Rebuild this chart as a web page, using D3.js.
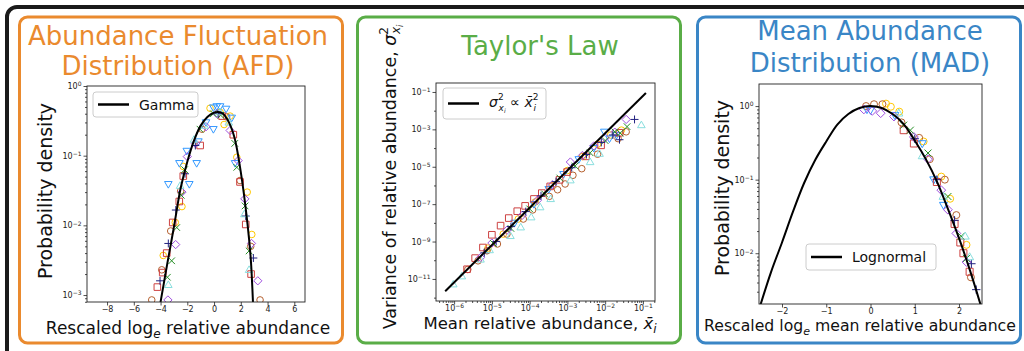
<!DOCTYPE html>
<html>
<head>
<meta charset="utf-8">
<script src="https://cdn.jsdelivr.net/npm/d3@7"></script>
<style>
  body { margin: 0; background: #fff; }
  svg { display: block; }
</style>
</head>
<body>
<div id="container"></div>
<script>
var width = 1024,
    height = 351;

// ---- tick values ----
var afdXTicks = [-8, -6, -4, -2, 0, 2, 4, 6];
var afdYTicks = [1e-3, 1e-2, 1e-1, 1];
var taylorXTicks = [1e-6, 1e-5, 1e-4, 1e-3, 1e-2, 1e-1];
var taylorYTicks = [1e-11, 1e-9, 1e-7, 1e-5, 1e-3, 1e-1];
var taylorYMinor = [1e-12, 1e-10, 1e-8, 1e-6, 1e-4, 1e-2];
var madXTicks = [-2, -1, 0, 1, 2];
var madYTicks = [1e-2, 1e-1, 1];

// ---- AFD: [rescaled log abundance, density] ----
var afdGamma = [[-4.05, 0.0007], [-3.5, 0.0028], [-3.0, 0.0095], [-2.5, 0.034], [-2.0, 0.082],
  [-1.5, 0.165], [-1.0, 0.27], [-0.5, 0.36], [0, 0.415], [0.3, 0.425], [0.6, 0.41], [1.0, 0.33],
  [1.5, 0.19], [2.0, 0.058], [2.5, 0.0105], [2.75, 0.0032], [2.95, 0.0005]];
var afdYellow = [[-0.3, 0.48], [0.75, 0.28], [1.2, 0.37], [1.7, 0.095], [-2.3, 0.07], [-2.4, 0.0186],
  [-2.9, 0.011], [-3.8, 0.0037], [2.48, 0.03], [2.82, 0.0074], [0.45, 0.42]];
var afdBrown = [[-4.66, 0.00085], [-3.91, 0.0023], [-3.24, 0.0083], [-2.5, 0.031], [-0.9, 0.24],
  [0.94, 0.36], [1.94, 0.044], [2.74, 0.005], [3.44, 0.00085]];
var afdBlue = [[-3.42, 0.039], [-2.59, 0.078], [-2.04, 0.117], [-1.85, 0.039], [-1.3, 0.078],
  [-1.17, 0.16], [-0.6, 0.3], [-0.05, 0.24], [-0.05, 0.49], [0.2, 0.51], [0.45, 0.51], [0.9, 0.47],
  [1.32, 0.35], [1.57, 0.078]];
var afdRed = [[-4.24, 0.0013], [-3.84, 0.0021], [-3.54, 0.004], [-3.09, 0.011], [-2.6, 0.022],
  [-2.3, 0.051], [-1.04, 0.14], [0.6, 0.37], [1.44, 0.2], [1.94, 0.042], [2.37, 0.0103], [2.77, 0.002]];
var afdPurple = [[-3.45, 0.00085], [-2.87, 0.0053], [-2.4, 0.03], [-2.0, 0.097], [-1.4, 0.15],
  [-0.6, 0.26], [0.2, 0.4], [1.2, 0.23], [1.8, 0.085], [2.3, 0.024], [2.8, 0.0055], [3.27, 0.0016]];
var afdGreen = [[-3.49, 0.0018], [-3.17, 0.0031], [-2.79, 0.0093], [-2.45, 0.027], [-2.2, 0.063],
  [-1.05, 0.24], [-0.05, 0.4], [0.5, 0.38], [1.55, 0.15], [1.7, 0.068], [2.32, 0.019], [2.62, 0.0043]];
var afdNavy = [[-4.04, 0.0016], [-3.42, 0.0055], [-2.86, 0.0166], [-2.17, 0.055], [-1.4, 0.14],
  [0.3, 0.4], [2.37, 0.0136], [2.94, 0.0034]];
var afdCyan = [[-3.42, 0.0014], [-2.54, 0.037], [-1.5, 0.17], [-0.7, 0.27], [0.45, 0.42],
  [1.1, 0.3], [2.27, 0.0145], [2.62, 0.0023]];

// ---- Taylor's law: [mean, variance] ----
var taylorLine = [[5.8e-7, 2.2e-12], [1.2e-1, 8.9e-2]];
var taylorYellow = [[7.9e-6, 4.5e-10], [2.0e-5, 2.5e-9], [5.0e-5, 1.6e-8], [1.4e-4, 1.3e-7], [4.0e-4, 1.0e-6],
  [1.0e-3, 6.3e-6], [2.5e-3, 3.5e-5], [6.3e-3, 1.6e-4], [1.4e-2, 5.0e-4], [2.7e-2, 9.1e-4]];
var taylorBrown = [[2.3e-6, 3.2e-11], [4.3e-6, 9.3e-11], [7.4e-6, 3.2e-10], [1.4e-5, 7.4e-10], [2.5e-5, 2.5e-9],
  [6.8e-5, 1.6e-8], [1.2e-4, 4.9e-8], [3.3e-4, 2.6e-7], [5.5e-4, 5.9e-7], [8.7e-4, 1.2e-6], [1.4e-3, 3.5e-6],
  [2.4e-3, 7.9e-6], [6.3e-3, 4.7e-5], [2.2e-2, 3.2e-4], [3.6e-2, 7.4e-4]];
var taylorBlue = [[4.0e-5, 1.0e-8], [1.3e-4, 1.0e-7], [3.2e-4, 6.3e-7], [7.9e-4, 4.0e-6], [2.0e-3, 2.5e-5],
  [5.0e-3, 1.0e-4], [9.5e-3, 7.4e-4], [1.3e-2, 3.2e-4], [2.0e-2, 5.0e-4]];
var taylorRed = [[2.2e-6, 3.3e-11], [3.6e-6, 1.3e-10], [5.8e-6, 4.8e-10], [1.0e-5, 2.3e-9], [1.7e-5, 7.1e-9],
  [2.8e-5, 1.8e-8], [4.7e-5, 4.2e-8], [7.6e-5, 8.1e-8], [1.3e-4, 1.9e-7], [2.1e-4, 3.9e-7], [3.5e-4, 8.9e-7],
  [6.2e-4, 2.0e-6], [9.8e-4, 5.2e-6], [3.1e-3, 3.6e-5], [7.8e-3, 1.4e-4], [2.4e-2, 6.6e-4]];
var taylorPurple = [[5.0e-6, 1.4e-10], [1.0e-5, 8.3e-10], [2.5e-5, 4.0e-9], [6.3e-5, 2.5e-8], [1.6e-4, 1.6e-7],
  [4.0e-4, 1.1e-6], [1.2e-3, 1.8e-5], [2.5e-3, 4.0e-5], [5.0e-3, 1.3e-4], [1.0e-2, 3.5e-4], [1.8e-2, 7.1e-4],
  [3.6e-2, 3.4e-3]];
var taylorGreen = [[1.1e-5, 7.9e-10], [3.2e-5, 5.0e-9], [1.0e-4, 5.6e-8], [2.5e-4, 3.5e-7], [6.3e-4, 2.5e-6],
  [1.6e-3, 1.1e-5], [4.0e-3, 5.6e-5], [1.0e-2, 2.5e-4], [1.8e-2, 7.4e-4], [2.5e-2, 6.3e-4], [3.8e-2, 1.4e-3]];
var taylorNavy = [[6.3e-6, 2.5e-10], [1.3e-5, 1.0e-9], [3.2e-5, 6.3e-9], [7.9e-5, 4.0e-8], [2.0e-4, 2.8e-7],
  [5.0e-4, 1.6e-6], [1.3e-3, 8.9e-6], [3.2e-3, 4.5e-5], [7.9e-3, 2.0e-4], [1.6e-2, 5.0e-4], [2.4e-2, 2.8e-4],
  [6.0e-2, 3.4e-3]];
var taylorCyan = [[9.5e-7, 5.2e-12], [1.6e-6, 1.4e-11], [5.0e-6, 1.1e-10], [8.7e-6, 3.5e-10], [3.1e-5, 2.0e-9],
  [5.8e-5, 5.8e-9], [1.1e-4, 2.0e-8], [1.9e-4, 6.9e-8], [3.6e-4, 1.9e-7], [1.2e-3, 1.9e-6], [4.0e-3, 1.8e-5],
  [7.1e-3, 5.0e-5], [9.1e-2, 1.7e-3]];

// ---- MAD: [rescaled log mean abundance, density] ----
var madLognormal = [[-2.55, 0.0015], [-2.25, 0.0055], [-2.0, 0.014], [-1.75, 0.037], [-1.5, 0.09],
  [-1.25, 0.185], [-1.0, 0.33], [-0.75, 0.56], [-0.5, 0.78], [-0.25, 0.94], [0, 1.0], [0.25, 0.94],
  [0.5, 0.78], [0.75, 0.57], [1.0, 0.34], [1.25, 0.19], [1.5, 0.095], [1.75, 0.04], [2.0, 0.016],
  [2.25, 0.0058], [2.55, 0.0015]];
var madYellow = [[0.35, 1.08], [0.46, 0.98], [0.65, 0.84], [1.2, 0.33], [1.6, 0.11], [1.8, 0.055], [2.17, 0.013]];
var madBrown = [[-0.1, 1.0], [0.08, 1.06], [0.27, 1.06], [0.7, 0.6], [1.1, 0.37], [1.34, 0.19], [1.68, 0.1],
  [1.94, 0.033], [2.27, 0.0047]];
var madBlue = [[-0.08, 0.9], [0, 0.88], [0.55, 0.75], [1.17, 0.31], [1.43, 0.1], [1.65, 0.045]];
var madRed = [[0.75, 0.47], [0.98, 0.31], [1.5, 0.093], [1.9, 0.025], [2.03, 0.014], [2.1, 0.01], [2.24, 0.0056]];
var madPurple = [[-0.15, 0.9], [0.04, 0.86], [0.23, 0.8], [0.53, 0.72], [0.98, 0.38], [1.3, 0.19], [1.6, 0.072],
  [1.75, 0.039], [1.94, 0.0186], [2.17, 0.0076]];
var madGreen = [[0.75, 0.55], [0.9, 0.47], [1.3, 0.23], [1.75, 0.059], [2.05, 0.017], [2.17, 0.0085]];
var madNavy = [[1.0, 0.36], [1.5, 0.1], [1.9, 0.028], [2.28, 0.0072], [2.39, 0.0032]];
var madCyan = [[0.64, 0.8], [1.17, 0.21], [1.64, 0.059], [2.14, 0.017], [2.24, 0.0089]];

var styles = [
  {kind: 'o', color: '#ffc800'},
  {kind: 'o', color: '#b5602f'},
  {kind: 'v', color: '#3399ff'},
  {kind: 's', color: '#cd4141'},
  {kind: 'D', color: '#a04fe0'},
  {kind: 'x', color: '#268f26'},
  {kind: '+', color: '#20207f'},
  {kind: '^', color: '#88dede'}
];

var svg = d3.select('#container').append('svg')
    .attr('width', width)
    .attr('height', height)
    .style('font-family', '"DejaVu Sans", sans-serif');

// outer frame (runs off the page) and the three coloured boxes
svg.append('rect')
    .attr('x', 7).attr('y', 7).attr('width', 1080).attr('height', 420).attr('rx', 10)
    .style('fill', 'none').style('stroke', '#1a1a1a').style('stroke-width', 4);

var boxes = [
  {x: 19.5, color: '#ea8a2e'},
  {x: 357.5, color: '#5aad47'},
  {x: 697.5, color: '#3a86c6'}
];
svg.selectAll('.box').data(boxes).enter().append('rect')
    .attr('class', 'box')
    .attr('x', function(d) { return d.x; })
    .attr('y', 17).attr('width', 323).attr('height', 326).attr('rx', 8)
    .style('fill', '#fff').style('stroke', function(d) { return d.color; })
    .style('stroke-width', 3);

function markerPath(kind, r) {
  switch (kind) {
    case 'o': return d3.symbol(d3.symbolCircle, Math.PI * r * r)();
    case 's': return 'M' + -r + ',' + -r + 'H' + r + 'V' + r + 'H' + -r + 'Z';
    case 'D': var d = r * 1.25; return 'M0,' + -d + 'L' + d + ',0L0,' + d + 'L' + -d + ',0Z';
    case '^': return 'M0,' + (-r * 1.2) + 'L' + (r * 1.15) + ',' + (r * 0.8) + 'L' + (-r * 1.15) + ',' + (r * 0.8) + 'Z';
    case 'v': return 'M0,' + (r * 1.2) + 'L' + (r * 1.15) + ',' + (-r * 0.8) + 'L' + (-r * 1.15) + ',' + (-r * 0.8) + 'Z';
    case 'x': return 'M' + -r + ',' + -r + 'L' + r + ',' + r + 'M' + -r + ',' + r + 'L' + r + ',' + -r;
    case '+': var p = r * 1.2; return 'M' + -p + ',0H' + p + 'M0,' + -p + 'V' + p;
  }
}

function logMinor(domain) {
  var out = [];
  var lo = Math.floor(Math.log10(domain[0])), hi = Math.ceil(Math.log10(domain[1]));
  for (var e = lo; e <= hi; e++) {
    for (var k = 2; k < 10; k++) {
      var v = k * Math.pow(10, e);
      if (v >= domain[0] && v <= domain[1]) out.push(v);
    }
  }
  return out;
}

function powLabel(sel) {
  sel.each(function(v) {
    var e = Math.round(Math.log10(v));
    var t = d3.select(this).text('10');
    t.append('tspan').attr('dy', '-0.45em').attr('font-size', 6)
      .text(e < 0 ? '\u2212' + (-e) : e);
  });
}

function styleAxis(g) {
  g.attr('font-family', null).attr('font-size', 8);
  g.select('.domain').remove();
  g.selectAll('line').style('stroke', '#222').style('stroke-width', 0.8);
  g.selectAll('text').style('fill', '#222');
}

function drawPanel(opt) {
  var x = opt.x, y = opt.y;
  var xr = x.range(), yr = y.range();
  var g = svg.append('g');

  svg.append('clipPath').attr('id', 'clip' + opt.id).append('rect')
      .attr('x', xr[0]).attr('y', yr[1]).attr('width', xr[1] - xr[0]).attr('height', yr[0] - yr[1]);
  var plot = g.append('g').attr('clip-path', 'url(#clip' + opt.id + ')');

  opt.series.forEach(function(data, i) {
    var st = styles[i];
    plot.selectAll(null).data(data).enter().append('path')
        .attr('transform', function(d) { return 'translate(' + x(d[0]) + ',' + y(d[1]) + ')'; })
        .attr('d', markerPath(st.kind, opt.r))
        .style('fill', 'none').style('stroke', st.color).style('stroke-width', 1);
  });

  plot.append('path').datum(opt.curve)
      .attr('d', d3.line()
        .x(function(d) { return x(d[0]); })
        .y(function(d) { return y(d[1]); })
        .curve(opt.curveType))
      .style('fill', 'none').style('stroke', '#000').style('stroke-width', 2);

  // axes
  var xAxis = d3.axisBottom(x).tickValues(opt.xTicks).tickSize(3.5).tickPadding(1);
  if (!opt.xLog) xAxis.tickFormat(d3.format('d'));
  var gx = g.append('g').attr('transform', 'translate(0,' + yr[0] + ')').call(xAxis);
  if (opt.xLog) gx.selectAll('.tick text').call(powLabel);
  styleAxis(gx);
  if (opt.xMinor) {
    var gxm = g.append('g').attr('transform', 'translate(0,' + yr[0] + ')')
        .call(d3.axisBottom(x).tickValues(opt.xMinor).tickSize(2).tickFormat(''));
    styleAxis(gxm);
  }
  var gy = g.append('g').attr('transform', 'translate(' + xr[0] + ',0)')
      .call(d3.axisLeft(y).tickValues(opt.yTicks).tickSize(3.5).tickPadding(2));
  gy.selectAll('.tick text').call(powLabel);
  styleAxis(gy);
  var gym = g.append('g').attr('transform', 'translate(' + xr[0] + ',0)')
      .call(d3.axisLeft(y).tickValues(opt.yMinor).tickSize(2).tickFormat(''));
  styleAxis(gym);

  g.append('rect')
      .attr('x', xr[0]).attr('y', yr[1]).attr('width', xr[1] - xr[0]).attr('height', yr[0] - yr[1])
      .style('fill', 'none').style('stroke', '#222').style('stroke-width', 0.9);
  return g;
}

function legend(x0, y0, w, h) {
  var g = svg.append('g');
  g.append('rect').attr('x', x0).attr('y', y0).attr('width', w).attr('height', h).attr('rx', 3)
      .style('fill', '#fff').style('fill-opacity', 0.85).style('stroke', '#ccc').style('stroke-width', 1);
  g.append('line').attr('x1', x0 + 5).attr('x2', x0 + 36).attr('y1', y0 + h / 2).attr('y2', y0 + h / 2)
      .style('stroke', '#000').style('stroke-width', 2.5);
  return g.append('text').attr('x', x0 + 46).attr('y', y0 + h / 2 + 5).attr('font-size', 14).style('fill', '#111');
}

function title(lines, cx, ys, color) {
  lines.forEach(function(t, i) {
    svg.append('text').attr('x', cx).attr('y', ys[i]).attr('text-anchor', 'middle')
        .attr('font-size', 26).style('fill', color).text(t);
  });
}

// ---------- AFD ----------
var afdX = d3.scaleLinear().domain([-9.5, 6.8]).range([87, 305]);
var afdY = d3.scaleLog().domain([Math.pow(10, -3.1), 1]).range([302, 86]);
drawPanel({
  id: 'afd', x: afdX, y: afdY, r: 3.3,
  series: [afdYellow, afdBrown, afdBlue, afdRed, afdPurple, afdGreen, afdNavy, afdCyan],
  curve: afdGamma, curveType: d3.curveCatmullRom,
  xTicks: afdXTicks, yTicks: afdYTicks, yMinor: logMinor(afdY.domain())
});
legend(93, 92, 105, 25).text('Gamma');
title(['Abundance Fluctuation', 'Distribution (AFD)'], 178, [45, 75], '#ea8a2e');

svg.append('text').attr('transform', 'translate(52,191) rotate(-90)').attr('text-anchor', 'middle')
    .attr('font-size', 19).style('fill', '#111').text('Probability density');
var afdXl = svg.append('text').attr('x', 188).attr('y', 334).attr('text-anchor', 'middle')
    .attr('font-size', 17).style('fill', '#111');
afdXl.append('tspan').text('Rescaled log');
afdXl.append('tspan').attr('font-size', 12).attr('dy', 4).attr('font-style', 'italic').text('e');
afdXl.append('tspan').attr('dy', -4).text(' relative abundance');

// ---------- Taylor ----------
var tX = d3.scaleLog().domain([Math.pow(10, -6.48), Math.pow(10, -0.68)]).range([436, 655]);
var tY = d3.scaleLog().domain([Math.pow(10, -12.18), Math.pow(10, -0.52)]).range([301, 83]);
drawPanel({
  id: 'taylor', x: tX, y: tY, r: 3.3,
  series: [taylorYellow, taylorBrown, taylorBlue, taylorRed, taylorPurple, taylorGreen, taylorNavy, taylorCyan],
  curve: taylorLine, curveType: d3.curveLinear,
  xTicks: taylorXTicks, xLog: true, xMinor: logMinor(tX.domain()),
  yTicks: taylorYTicks, yMinor: taylorYMinor
});
var tl = legend(443, 88, 103, 31);
tl.attr('y', 107);
tl.append('tspan').attr('font-style', 'italic').text('\u03c3');
tl.append('tspan').attr('font-size', 9).attr('dy', -7).text('2');
tl.append('tspan').attr('font-size', 9).attr('dx', -5).attr('dy', 11).attr('font-style', 'italic').text('x');
tl.append('tspan').attr('font-size', 6).attr('dy', 2).attr('font-style', 'italic').text('i');
tl.append('tspan').attr('dy', -6).text(' \u221d ');
tl.append('tspan').attr('font-style', 'italic').text('x\u0304');
tl.append('tspan').attr('font-size', 9).attr('dy', -7).text('2');
tl.append('tspan').attr('font-size', 9).attr('dx', -5).attr('dy', 11).attr('font-style', 'italic').text('i');
title(["Taylor's Law"], 540, [55], '#5aad47');

var tYl = svg.append('text').attr('transform', 'translate(396,177) rotate(-90)').attr('text-anchor', 'middle')
    .attr('font-size', 17.5).style('fill', '#111');
tYl.append('tspan').text('Variance of relative abundance, ');
tYl.append('tspan').attr('font-style', 'italic').text('\u03c3');
tYl.append('tspan').attr('font-size', 12).attr('dy', -8).text('2');
tYl.append('tspan').attr('font-size', 12).attr('dx', -7).attr('dy', 12).attr('font-style', 'italic').text('x');
tYl.append('tspan').attr('font-size', 8).attr('dy', 3).attr('font-style', 'italic').text('i');
var tXl = svg.append('text').attr('x', 540).attr('y', 329).attr('text-anchor', 'middle')
    .attr('font-size', 16.5).style('fill', '#111');
tXl.append('tspan').text('Mean relative abundance, ');
tXl.append('tspan').attr('font-style', 'italic').text('x\u0304');
tXl.append('tspan').attr('font-size', 12).attr('dy', 4).attr('font-style', 'italic').text('i');

// ---------- MAD ----------
var mX = d3.scaleLinear().domain([-2.52, 2.52]).range([759, 982]);
var mY = d3.scaleLog().domain([Math.pow(10, -2.69), Math.pow(10, 0.3)]).range([304, 84]);
drawPanel({
  id: 'mad', x: mX, y: mY, r: 3.5,
  series: [madYellow, madBrown, madBlue, madRed, madPurple, madGreen, madNavy, madCyan],
  curve: madLognormal, curveType: d3.curveCatmullRom,
  xTicks: madXTicks, yTicks: madYTicks, yMinor: logMinor(mY.domain())
});
legend(806, 244, 130, 26).text('Lognormal');
title(['Mean Abundance', 'Distribution (MAD)'], 870, [40, 72], '#3a86c6');

svg.append('text').attr('transform', 'translate(729,188) rotate(-90)').attr('text-anchor', 'middle')
    .attr('font-size', 19).style('fill', '#111').text('Probability density');
var mXl = svg.append('text').attr('x', 860).attr('y', 331).attr('text-anchor', 'middle')
    .attr('font-size', 15.7).style('fill', '#111');
mXl.append('tspan').text('Rescaled log');
mXl.append('tspan').attr('font-size', 11).attr('dy', 4).attr('font-style', 'italic').text('e');
mXl.append('tspan').attr('dy', -4).text(' mean relative abundance');
</script>
</body>
</html>
